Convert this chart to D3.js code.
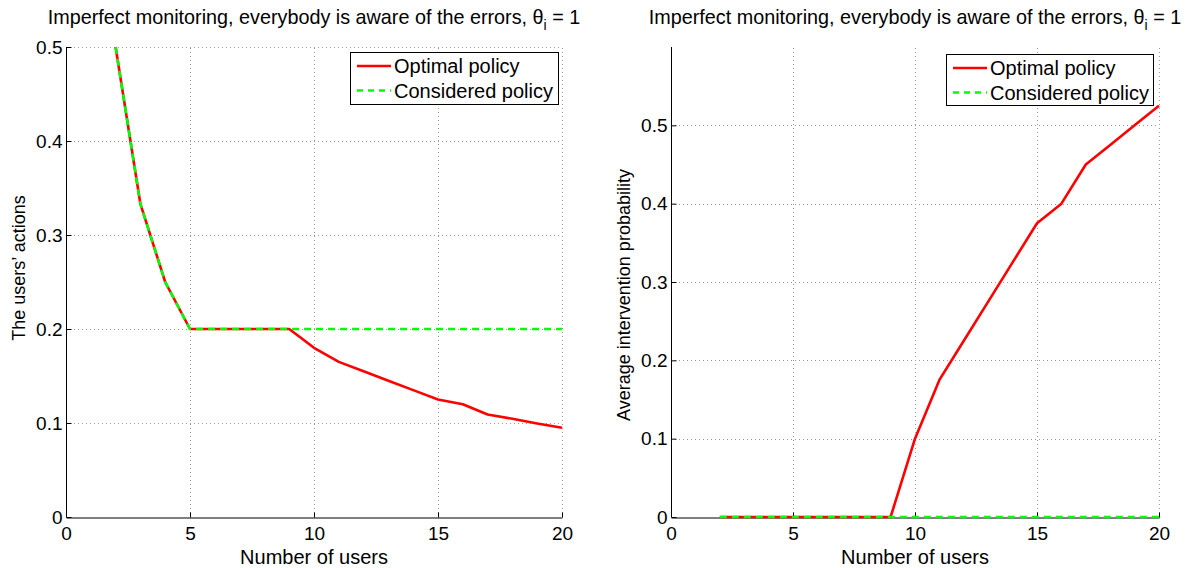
<!DOCTYPE html>
<html><head><meta charset="utf-8">
<script src="https://cdn.jsdelivr.net/npm/d3@7/dist/d3.min.js"></script>
<style>body{margin:0;background:#fff}svg{display:block}text{font-family:"Liberation Sans",Arial,sans-serif;fill:#000}</style>
</head><body>
<svg id="c" width="1197" height="568"></svg>
<script>
// Data
const users = [2,3,4,5,6,7,8,9,10,11,12,13,14,15,16,17,18,19,20];
const actionsOptimal   = [0.5,0.333,0.25,0.2,0.2,0.2,0.2,0.2,0.18,0.165,0.155,0.145,0.135,0.125,0.12,0.109,0.1045,0.0995,0.095];
const actionsConsidered= [0.5,0.333,0.25,0.2,0.2,0.2,0.2,0.2,0.2,0.2,0.2,0.2,0.2,0.2,0.2,0.2,0.2,0.2,0.2];
const interventionOptimal   = [0,0,0,0,0,0,0,0,0.1,0.175,0.225,0.275,0.325,0.375,0.4,0.45,0.475,0.5,0.525];
const interventionConsidered= [0,0,0,0,0,0,0,0,0,0,0,0,0,0,0,0,0,0,0];
const xTicks = [0,5,10,15,20];
const yTicks = [0,0.1,0.2,0.3,0.4,0.5];
const seriesNames = ["Optimal policy","Considered policy"];
const titleText = "Imperfect monitoring, everybody is aware of the errors, ";
const xLabel = "Number of users";
const yLabels = ["The users\u2019 actions","Average intervention probability"];

const svg = d3.select("#c");
const FT = 19.8, FTICK = 19, FX = 20, FY = 18, FL = 20;

function panel(cfg){
  const g = svg.append("g");
  const x = d3.scaleLinear().domain([0,20]).range([cfg.x0,cfg.x1]);
  const y = d3.scaleLinear().domain([0,cfg.ymax]).range([517,47]);
  // grid
  g.selectAll(".gx").data(xTicks.filter(d=>d>0)).enter().append("line")
    .attr("x1",d=>Math.round(x(d))+0.5).attr("x2",d=>Math.round(x(d))+0.5).attr("y1",y(0)).attr("y2",47)
    .attr("stroke","#999").attr("stroke-width",1).attr("stroke-dasharray","1,3");
  g.selectAll(".gy").data(yTicks.filter(d=>d>0)).enter().append("line")
    .attr("x1",x(0)).attr("x2",x(20)).attr("y1",d=>Math.round(y(d))+0.5).attr("y2",d=>Math.round(y(d))+0.5)
    .attr("stroke","#999").attr("stroke-width",1).attr("stroke-dasharray","1,3");
  // axes
  const ax = g.append("g").attr("transform",`translate(0,${Math.round(y(0))+0.5})`)
    .call(d3.axisBottom(x).tickValues(xTicks).tickSizeInner(-5).tickSizeOuter(0).tickPadding(9).tickFormat(d3.format("d")));
  const ay = g.append("g").attr("transform",`translate(${Math.round(x(0))+0.5},0)`)
    .call(d3.axisLeft(y).tickValues(yTicks).tickSizeInner(-5).tickSizeOuter(0).tickPadding(4).tickFormat(d=>d===0?"0":d3.format(".1f")(d)));
  [ax,ay].forEach(a=>{
    a.selectAll("text").style("font-size",FTICK+"px").style("font-family","Liberation Sans, Arial, sans-serif").attr("fill","#000");
    a.selectAll("line,path").attr("stroke","#000");
  });
  ay.select(".domain").attr("d",`M0,${Math.round(y(0))}V47`);
  // lines
  const line = d3.line().x((d,i)=>x(users[i])).y(d=>y(d));
  g.append("path").datum(cfg.opt).attr("d",line).attr("fill","none").attr("stroke","#ff0000").attr("stroke-width",2.6).attr("stroke-linejoin","round");
  g.append("path").datum(cfg.con).attr("d",line).attr("fill","none").attr("stroke","#00ff00").attr("stroke-width",2.6).attr("stroke-dasharray","7,5");
  // title
  const t = g.append("text").attr("x",(cfg.x0+cfg.x1)/2).attr("y",24).attr("text-anchor","middle").style("font-size",FT+"px");
  t.append("tspan").text(titleText);
  t.append("tspan").text("\u03b8");
  t.append("tspan").attr("dy",6).style("font-size","14px").text("i");
  t.append("tspan").attr("dy",-6).text(" = 1");
  // x label
  g.append("text").attr("x",(cfg.x0+cfg.x1)/2).attr("y",564).attr("text-anchor","middle").style("font-size",FX+"px").text(xLabel);
  // y label
  g.append("text").attr("transform",`translate(${cfg.ylx},${cfg.yly}) rotate(-90)`).attr("text-anchor","middle").style("font-size",FY+"px").text(cfg.ylab);
  // legend
  const L = cfg.leg;
  g.append("rect").attr("x",L.x+0.5).attr("y",L.y+0.5).attr("width",L.w).attr("height",L.h).attr("fill","#fff").attr("stroke","#000").attr("stroke-width",1);
  const rows=[{c:"#ff0000",dash:null},{c:"#00ff00",dash:"6,5"}];
  rows.forEach((r,i)=>{
    const yy = L.y+14+i*24.5;
    const ln = g.append("line").attr("x1",L.x+7).attr("x2",L.x+41).attr("y1",yy).attr("y2",yy).attr("stroke",r.c).attr("stroke-width",2.6);
    if(r.dash) ln.attr("stroke-dasharray",r.dash);
    g.append("text").attr("x",L.x+44).attr("y",yy+7).style("font-size",FL+"px").text(seriesNames[i]);
  });
}

panel({x0:66,x1:562,ymax:0.5,opt:actionsOptimal,con:actionsConsidered,ylab:yLabels[0],ylx:25,yly:268,
  leg:{x:350,y:52,w:208,h:52}});
panel({x0:671,x1:1159,ymax:0.6,opt:interventionOptimal,con:interventionConsidered,ylab:yLabels[1],ylx:630,yly:295,
  leg:{x:946,y:54,w:207,h:51}});
</script>
</body></html>
